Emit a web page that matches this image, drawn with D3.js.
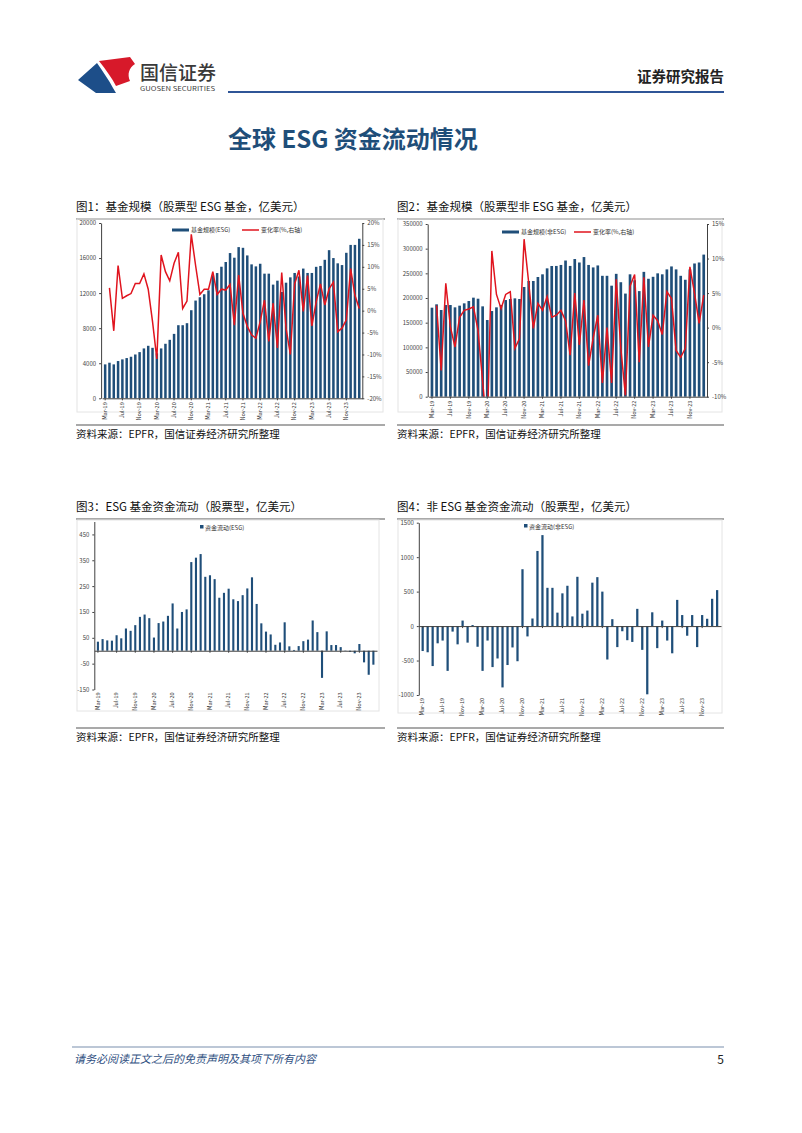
<!DOCTYPE html>
<html><head><meta charset="utf-8">
<script src="https://cdn.jsdelivr.net/npm/d3@7"></script>
<style>
body{margin:0;background:#fff;}
svg{display:block;}
text{font-family:"Noto Sans CJK SC","Noto Sans",sans-serif;}
</style></head>
<body>
<svg id="page" width="802" height="1133"></svg>
<script>
// ---------------- DATA ----------------
const months = d3.timeMonth.range(new Date(2019,2,1), new Date(2024,2,1)).map(d3.timeFormat("%b-%y"));
const tickLabels = ["Mar-19","Jul-19","Nov-19","Mar-20","Jul-20","Nov-20","Mar-21","Jul-21","Nov-21","Mar-22","Jul-22","Nov-22","Mar-23","Jul-23","Nov-23"];

// Fig1: ESG equity fund AUM (100m USD) and change rate (%)
const esgAum = [3870,4060,3870,4250,4440,4590,4740,5000,5270,5690,5990,5760,5130,5690,6220,6670,7350,8340,8340,8570,10050,11150,11530,11870,12320,14030,14290,15010,15550,16570,16040,
  17250,17170,16300,15280,15050,15350,14220,14220,12970,13420,12130,13190,13800,14300,13900,14800,14300,14300,15000,15100,15800,16900,16000,15400,15200,16600,17500,17500,18200];
const esgChg = [null,5.2,-4.6,10.3,2.8,3.4,3.9,6.2,6.2,8.4,4.9,-2.5,-11,12.7,8.9,6.8,10.8,13.3,0.5,2.2,17.4,10.3,3.7,4.9,4.9,8.9,3.7,4.9,4.7,6.0,-3.3,
  8.1,-0.6,-3.6,-5.5,-6.3,-2.5,2.4,-7.0,1.7,-8.5,8.7,-4.0,-10.0,6.1,9.2,-0.2,8.0,-3.5,2.0,6.1,1.3,5.0,6.5,-4.8,-4.0,-2.1,9.6,3.5,0.5];

// Fig2: non-ESG equity fund AUM and change rate
const nonAum = [180400,187200,175700,185800,185800,181100,184500,189200,193900,200700,198600,183100,155400,173600,181100,185800,195900,198000,199300,198000,222300,234500,234500,242600,248000,260100,264900,
  265000,267000,276000,265000,279000,272000,283000,267000,262000,266000,245000,245000,225000,249000,232000,209000,248000,236000,214000,253000,239000,243000,250000,248000,258000,264000,258000,245000,237000,258000,270000,272000,288000];
const nonChg = [null,3.2,-6.2,6.4,0.1,-2.8,1.5,2.5,2.7,3.0,-0.4,-7.8,-15,11.1,4.8,2.75,4.8,5.2,-3.0,-1.6,12.8,6.5,-0.1,3.5,2.5,4.5,1.5,
  1.8,2.5,1.0,-4.0,5.0,-2.5,4.0,-5.5,-1.5,1.8,-8.0,0.0,-8.0,7.0,-3.0,-9.8,6.0,7.7,-5.0,7.3,-2.8,1.8,1.0,-1.0,5.2,4.2,-3.3,-4.3,-3.0,8.8,5.0,0.6,4.7];

// Fig3: ESG equity fund flows
const esgFlow = [35,45,40,39,60,48,86,77,99,131,140,126,51,107,113,135,183,86,150,160,343,360,374,286,292,277,205,224,240,199,
  192,215,241,284,181,106,74,63,23,32,110,17,3,18,37,43,117,72,-105,75,22,22,14,1,-4,-10,26,-45,-93,-54];

// Fig4: non-ESG equity fund flows
const nonFlow = [-362,-380,-580,-250,-210,-650,-80,-265,80,-240,15,-300,-650,-210,-595,-470,-890,-565,-310,-510,825,-150,110,1090,1320,555,555,
  195,475,585,140,715,180,225,630,710,500,-485,100,-305,-75,-205,-230,250,-345,-990,200,-320,80,-210,-395,380,160,-140,160,-305,160,106,396,522];

// ---------------- DRAW ----------------
const svg = d3.select("#page");
const BLUE = "#1f4e79", RED = "#e0141e", AX = "#404040";

// header
const hdr = svg.append("g");
hdr.append("path").attr("d","M99,61 L130,57 L135,64 C129,68 127,74 130,81 L116,86 C112,78 106,70 99,61 Z").attr("fill","#d7192a");
hdr.append("path").attr("d","M78,80 L97,63 C103,72 109,80 113,88 L116,93 L96,93 Z").attr("fill","#1d4e89");
hdr.append("text").attr("x",140).attr("y",80).attr("font-size",19).attr("fill","#3a3a3a").attr("font-weight",500).text("国信证券");
hdr.append("text").attr("x",140).attr("y",91).attr("font-size",6.5).attr("fill","#3a3a3a").attr("textLength",75).attr("lengthAdjust","spacingAndGlyphs").text("GUOSEN SECURITIES");
hdr.append("text").attr("x",724).attr("y",82).attr("font-size",14.5).attr("font-weight",700).attr("text-anchor","end").attr("fill","#222").text("证券研究报告");
hdr.append("line").attr("x1",228).attr("x2",724).attr("y1",92).attr("y2",92).attr("stroke","#2f5597").attr("stroke-width",2);
svg.append("text").attr("x",228).attr("y",148).attr("font-size",24).attr("font-weight",700).attr("fill","#1f4e79").text("全球 ESG 资金流动情况");

// footer
svg.append("line").attr("x1",72).attr("x2",724).attr("y1",1047).attr("y2",1047).attr("stroke","#a6b4c8").attr("stroke-width",1.5);
svg.append("text").attr("x",74).attr("y",1063).attr("font-size",11).attr("font-style","italic").attr("fill","#2f4f7f").text("请务必阅读正文之后的免责声明及其项下所有内容");
svg.append("text").attr("x",724).attr("y",1064).attr("font-size",12).attr("text-anchor","end").attr("fill","#222").text("5");

function panel(x, w, yTitle, title, ySrc){
  svg.append("text").attr("x",x).attr("y",yTitle).attr("font-size",11.5).attr("fill","#111").text(title);
  svg.append("line").attr("x1",x).attr("x2",x+w).attr("y1",yTitle+8).attr("y2",yTitle+8).attr("stroke","#555").attr("stroke-width",1.2);
  svg.append("line").attr("x1",x).attr("x2",x+w).attr("y1",ySrc-13).attr("y2",ySrc-13).attr("stroke","#555").attr("stroke-width",1.2);
  svg.append("text").attr("x",x).attr("y",ySrc).attr("font-size",10.5).attr("fill","#111").text("资料来源：EPFR，国信证券经济研究所整理");
}
panel(76,309,211,"图1：基金规模（股票型 ESG 基金，亿美元）",438);
panel(397,327,211,"图2：基金规模（股票型非 ESG 基金，亿美元）",438);
panel(76,309,511,"图3：ESG 基金资金流动（股票型，亿美元）",741);
panel(397,327,511,"图4：非 ESG 基金资金流动（股票型，亿美元）",741);

// light frames
[[77,219,306,193],[398,219,324,193],[77,520,302,191],[398,520,324,193]].forEach(r=>{
  svg.append("rect").attr("x",r[0]).attr("y",r[1]).attr("width",r[2]).attr("height",r[3]).attr("fill","none").attr("stroke","#e4e4e4");
});

function xAxis(g, x, yBase, fs){
  const ax = d3.axisBottom(x).tickValues(tickLabels).tickSize(2).tickSizeOuter(0).tickFormat(d=>d);
  const a = g.append("g").attr("transform",`translate(0,${yBase})`).call(ax);
  a.select(".domain").attr("stroke",AX);
  a.selectAll(".tick line").attr("stroke",AX);
  a.selectAll(".tick text").attr("font-size",fs).attr("fill","#333")
    .attr("transform","rotate(-90)").attr("text-anchor","end").attr("x",-4).attr("y",0).attr("dy","0.32em");
  return a;
}
function yAxis(g, y, xPos, ticks, fmt, right){
  const ax = (right? d3.axisRight(y): d3.axisLeft(y)).tickValues(ticks).tickSize(2).tickSizeOuter(0).tickFormat(fmt);
  const a = g.append("g").attr("transform",`translate(${xPos},0)`).call(ax);
  a.select(".domain").attr("stroke",AX);
  a.selectAll(".tick line").attr("stroke",AX);
  a.selectAll(".tick text").attr("font-size",6).attr("fill","#444");
  return a;
}

function combo(o){
  const g = svg.append("g");
  const x = d3.scaleBand().domain(months).range([o.x0,o.x1]).padding(0.42);
  const yL = d3.scaleLinear().domain(o.lDom).range([o.yB,o.yT]);
  const yR = d3.scaleLinear().domain(o.rDom).range([o.yB,o.yT]);
  g.selectAll("rect.b").data(o.bars).join("rect").attr("class","b")
    .attr("x",(d,i)=>x(months[i])).attr("width",x.bandwidth())
    .attr("y",d=>yL(d)).attr("height",d=>yL(0)-yL(d)).attr("fill",BLUE);
  const clipId = "clip"+o.id;
  g.append("clipPath").attr("id",clipId).append("rect").attr("x",o.x0-2).attr("y",o.yT).attr("width",o.x1-o.x0+4).attr("height",o.yB-o.yT);
  const line = d3.line().defined(d=>d!=null).x((d,i)=>x(months[i])+x.bandwidth()/2).y(d=>yR(d));
  g.append("path").datum(o.line).attr("d",line).attr("fill","none").attr("stroke",RED).attr("stroke-width",1.5).attr("clip-path",`url(#${clipId})`);
  yAxis(g,yL,o.x0-1,o.lTicks,d=>d,false);
  yAxis(g,yR,o.x1,o.rTicks,d=>d+"%",true);
  xAxis(g,x,o.yB,5.5);
  // legend
  g.append("line").attr("x1",o.lg[0]).attr("x2",o.lg[0]+17).attr("y1",o.lg[2]).attr("y2",o.lg[2]).attr("stroke",BLUE).attr("stroke-width",3);
  g.append("text").attr("x",o.lg[0]+19).attr("y",o.lg[2]+2).attr("font-size",6).attr("fill","#333").text(o.lgText[0]);
  g.append("line").attr("x1",o.lg[1]).attr("x2",o.lg[1]+17).attr("y1",o.lg[2]).attr("y2",o.lg[2]).attr("stroke",RED).attr("stroke-width",1.5);
  g.append("text").attr("x",o.lg[1]+19).attr("y",o.lg[2]+2).attr("font-size",6).attr("fill","#333").text(o.lgText[1]);
}

combo({id:1,x0:102.1,x1:362.3,yT:223,yB:398.3,lDom:[0,20000],rDom:[-20,20],
  lTicks:[0,4000,8000,12000,16000,20000],rTicks:[-20,-15,-10,-5,0,5,10,15,20],
  bars:esgAum,line:esgChg,lg:[172,242,230],lgText:["基金规模(ESG)","变化率(%,右轴)"]});
combo({id:2,x0:428.7,x1:707,yT:224,yB:396.7,lDom:[0,350000],rDom:[-10,15],
  lTicks:[0,50000,100000,150000,200000,250000,300000,350000],rTicks:[-10,-5,0,5,10,15],
  bars:nonAum,line:nonChg,lg:[502,574,232],lgText:["基金规模(非ESG)","变化率(%,右轴)"]});

function flow(o){
  const g = svg.append("g");
  const x = d3.scaleBand().domain(months).range([o.x0,o.x1]).padding(0.55);
  const y = d3.scaleLinear().domain(o.dom).range([o.yB,o.yT]);
  g.selectAll("rect").data(o.vals).join("rect")
    .attr("x",(d,i)=>x(months[i])).attr("width",x.bandwidth())
    .attr("y",d=>y(Math.max(0,d))).attr("height",d=>Math.abs(y(d)-y(0))).attr("fill",BLUE);
  yAxis(g,y,o.x0,o.ticks,d=>d,false);
  const z = g.append("g").attr("transform",`translate(0,${y(0)})`)
    .call(d3.axisBottom(x).tickValues(tickLabels).tickSize(2).tickSizeOuter(0).tickFormat(""));
  z.select(".domain").attr("stroke",AX); z.selectAll(".tick line").attr("stroke",AX);
  const lab = g.append("g");
  lab.selectAll("text").data(tickLabels).join("text")
    .attr("transform",d=>`translate(${x(d)+x.bandwidth()/2},${o.yB+3}) rotate(-90)`)
    .attr("text-anchor","end").attr("dy","0.32em").attr("font-size",5.5).attr("fill","#333").text(d=>d);
  g.append("rect").attr("x",o.lg[0]).attr("y",o.lg[1]-3).attr("width",3.5).attr("height",3.5).attr("fill",BLUE);
  g.append("text").attr("x",o.lg[0]+5).attr("y",o.lg[1]+1.5).attr("font-size",6).attr("fill","#333").text(o.lgText);
}
flow({x0:94.3,x1:377,yT:521.5,yB:689.5,dom:[-150,500],ticks:[-150,-50,50,150,250,350,450],vals:esgFlow,lg:[200,528],lgText:"资金流动(ESG)"});
flow({x0:418.8,x1:721,yT:522.7,yB:695,dom:[-1000,1500],ticks:[-1000,-500,0,500,1000,1500],vals:nonFlow,lg:[524,527],lgText:"资金流动(非ESG)"});
</script>
</body></html>
